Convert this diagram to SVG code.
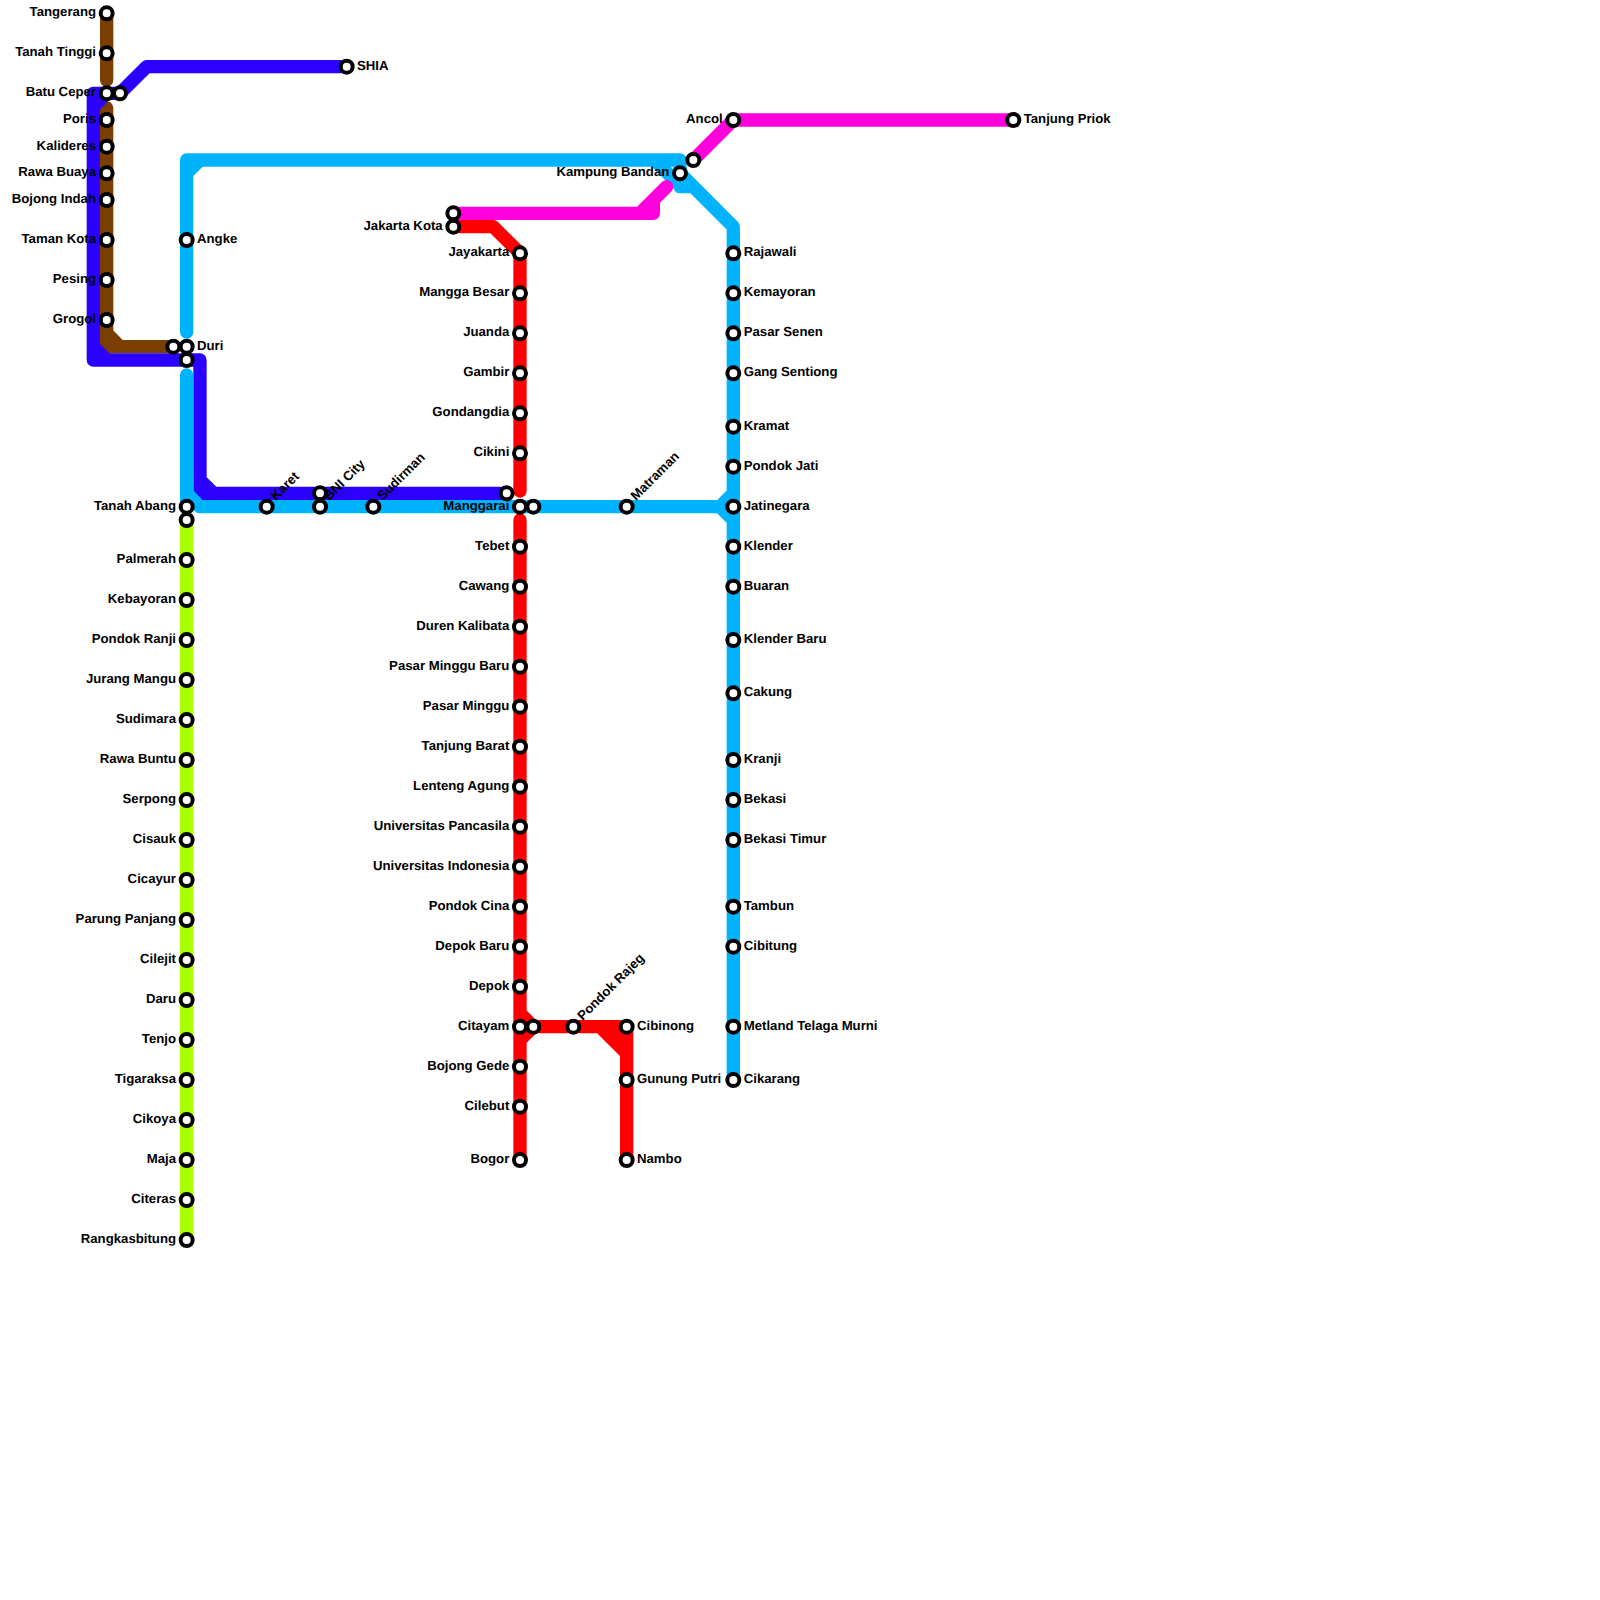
<svg xmlns="http://www.w3.org/2000/svg" width="1600" height="1600" viewBox="0 0 1600 1600">
<style>
.l{fill:none;stroke-width:13.33;stroke-linecap:round;stroke-linejoin:round}
.br{stroke:#7a3f00}.bl{stroke:#2b00ff}.cy{stroke:#00b3ff}.mg{stroke:#ff00dd}.rd{stroke:#ff0000}.gr{stroke:#aaff00}
circle{fill:#fff;stroke:#000;stroke-width:4}
text{font-family:"Liberation Sans",Arial,sans-serif;font-weight:700;font-size:13.2px;fill:#000;text-rendering:geometricPrecision}
.w{text-anchor:end}
</style>
<rect width="1600" height="1600" fill="#fff"/>
<g id="connectors">
<path class="l br" d="M106.67 13.33V80M106.67 108V346.67H173.33M106.67 333.33L120 346.67"/>
<path class="l gr" d="M186.67 520V1240"/>
<path class="l bl" d="M346.67 66.67H146.67L120 93.33H93.33V360H200V480L213.33 493.33H506.67M106.67 93.33L93.33 106.67M93.33 346.67L106.67 360M200 480V493.33H213.33"/>
<path class="l cy" d="M200 160H186.67V332M200 160L186.67 173.33M186.67 160H680V186.67H693.33L733.33 226.67V1080M680 173.33L733.33 226.67M654.5 160L680 185.5M186.67 375V506.67M186.67 493.33L200 506.67H733.33M733.33 493.33L720 506.67L733.33 520"/>
<path class="l rd" d="M453.33 226.67H493.33L520 253.33V491M520 520V1160M520 1013.33L533.33 1026.67L520 1040M533.33 1026.67H626.67V1160M600 1026.67L626.67 1053.33M610 1026.67L626.67 1043.33"/>
<path class="l mg" d="M453.33 213.33H640L666.67 186.67L653.33 200V213.33H640M693.33 160L733.33 120H1013.33"/>
</g>
<g id="stations">
<g id="tangerang"><circle cx="106.67" cy="13.33" r="6"/><text class="w" x="96" y="16.3">Tangerang</text></g>
<g id="tanah-tinggi"><circle cx="106.67" cy="53.33" r="6"/><text class="w" x="96" y="56.3">Tanah Tinggi</text></g>
<g id="batu-ceper"><circle cx="106.67" cy="93.33" r="6"/><text class="w" x="96" y="96.3">Batu Ceper</text></g>
<g id="batu-ceper-2"><circle cx="120" cy="93.33" r="6"/></g>
<g id="poris"><circle cx="106.67" cy="120" r="6"/><text class="w" x="96" y="123">Poris</text></g>
<g id="kalideres"><circle cx="106.67" cy="146.67" r="6"/><text class="w" x="96" y="149.6">Kalideres</text></g>
<g id="rawa-buaya"><circle cx="106.67" cy="173.33" r="6"/><text class="w" x="96" y="176.3">Rawa Buaya</text></g>
<g id="bojong-indah"><circle cx="106.67" cy="200" r="6"/><text class="w" x="96" y="203">Bojong Indah</text></g>
<g id="taman-kota"><circle cx="106.67" cy="240" r="6"/><text class="w" x="96" y="243">Taman Kota</text></g>
<g id="pesing"><circle cx="106.67" cy="280" r="6"/><text class="w" x="96" y="283">Pesing</text></g>
<g id="grogol"><circle cx="106.67" cy="320" r="6"/><text class="w" x="96" y="323">Grogol</text></g>
<g id="shia"><circle cx="346.67" cy="66.67" r="6"/><text x="357" y="69.6">SHIA</text></g>
<g id="angke"><circle cx="186.67" cy="240" r="6"/><text x="197" y="243">Angke</text></g>
<g id="duri-2"><circle cx="173.33" cy="346.67" r="6"/></g>
<g id="duri"><circle cx="186.67" cy="346.67" r="6"/><text x="197" y="349.6">Duri</text></g>
<g id="duri-3"><circle cx="186.67" cy="360" r="6"/></g>
<g id="tanah-abang"><circle cx="186.67" cy="506.67" r="6"/><text class="w" x="176" y="509.6">Tanah Abang</text></g>
<g id="tanah-abang-2"><circle cx="186.67" cy="520" r="6"/></g>
<g id="palmerah"><circle cx="186.67" cy="560" r="6"/><text class="w" x="176" y="563">Palmerah</text></g>
<g id="kebayoran"><circle cx="186.67" cy="600" r="6"/><text class="w" x="176" y="603">Kebayoran</text></g>
<g id="pondok-ranji"><circle cx="186.67" cy="640" r="6"/><text class="w" x="176" y="643">Pondok Ranji</text></g>
<g id="jurang-mangu"><circle cx="186.67" cy="680" r="6"/><text class="w" x="176" y="683">Jurang Mangu</text></g>
<g id="sudimara"><circle cx="186.67" cy="720" r="6"/><text class="w" x="176" y="723">Sudimara</text></g>
<g id="rawa-buntu"><circle cx="186.67" cy="760" r="6"/><text class="w" x="176" y="763">Rawa Buntu</text></g>
<g id="serpong"><circle cx="186.67" cy="800" r="6"/><text class="w" x="176" y="803">Serpong</text></g>
<g id="cisauk"><circle cx="186.67" cy="840" r="6"/><text class="w" x="176" y="843">Cisauk</text></g>
<g id="cicayur"><circle cx="186.67" cy="880" r="6"/><text class="w" x="176" y="883">Cicayur</text></g>
<g id="parung-panjang"><circle cx="186.67" cy="920" r="6"/><text class="w" x="176" y="923">Parung Panjang</text></g>
<g id="cilejit"><circle cx="186.67" cy="960" r="6"/><text class="w" x="176" y="963">Cilejit</text></g>
<g id="daru"><circle cx="186.67" cy="1000" r="6"/><text class="w" x="176" y="1003">Daru</text></g>
<g id="tenjo"><circle cx="186.67" cy="1040" r="6"/><text class="w" x="176" y="1043">Tenjo</text></g>
<g id="tigaraksa"><circle cx="186.67" cy="1080" r="6"/><text class="w" x="176" y="1083">Tigaraksa</text></g>
<g id="cikoya"><circle cx="186.67" cy="1120" r="6"/><text class="w" x="176" y="1123">Cikoya</text></g>
<g id="maja"><circle cx="186.67" cy="1160" r="6"/><text class="w" x="176" y="1163">Maja</text></g>
<g id="citeras"><circle cx="186.67" cy="1200" r="6"/><text class="w" x="176" y="1203">Citeras</text></g>
<g id="rangkasbitung"><circle cx="186.67" cy="1240" r="6"/><text class="w" x="176" y="1243">Rangkasbitung</text></g>
<g id="karet"><circle cx="266.67" cy="506.67" r="6"/><text transform="translate(276 501) rotate(-45)">Karet</text></g>
<g id="bni-city-2"><circle cx="320" cy="493.33" r="6"/></g>
<g id="bni-city"><circle cx="320" cy="506.67" r="6"/><text transform="translate(329.3 501) rotate(-45)">BNI City</text></g>
<g id="sudirman"><circle cx="373.33" cy="506.67" r="6"/><text transform="translate(382.7 501) rotate(-45)">Sudirman</text></g>
<g id="manggarai-2"><circle cx="506.67" cy="493.33" r="6"/></g>
<g id="manggarai"><circle cx="520" cy="506.67" r="6"/><text class="w" x="509.3" y="509.6">Manggarai</text></g>
<g id="manggarai-3"><circle cx="533.33" cy="506.67" r="6"/></g>
<g id="matraman"><circle cx="626.67" cy="506.67" r="6"/><text transform="translate(636 501) rotate(-45)">Matraman</text></g>
<g id="jakarta-kota"><circle cx="453.33" cy="213.33" r="6"/><circle cx="453.33" cy="226.67" r="6"/><text class="w" x="442.7" y="229.6">Jakarta Kota</text></g>
<g id="jayakarta"><circle cx="520" cy="253.33" r="6"/><text class="w" x="509.3" y="256.3">Jayakarta</text></g>
<g id="mangga-besar"><circle cx="520" cy="293.33" r="6"/><text class="w" x="509.3" y="296.3">Mangga Besar</text></g>
<g id="juanda"><circle cx="520" cy="333.33" r="6"/><text class="w" x="509.3" y="336.3">Juanda</text></g>
<g id="gambir"><circle cx="520" cy="373.33" r="6"/><text class="w" x="509.3" y="376.3">Gambir</text></g>
<g id="gondangdia"><circle cx="520" cy="413.33" r="6"/><text class="w" x="509.3" y="416.3">Gondangdia</text></g>
<g id="cikini"><circle cx="520" cy="453.33" r="6"/><text class="w" x="509.3" y="456.3">Cikini</text></g>
<g id="tebet"><circle cx="520" cy="546.67" r="6"/><text class="w" x="509.3" y="549.6">Tebet</text></g>
<g id="cawang"><circle cx="520" cy="586.67" r="6"/><text class="w" x="509.3" y="589.6">Cawang</text></g>
<g id="duren-kalibata"><circle cx="520" cy="626.67" r="6"/><text class="w" x="509.3" y="629.6">Duren Kalibata</text></g>
<g id="pasar-minggu-baru"><circle cx="520" cy="666.67" r="6"/><text class="w" x="509.3" y="669.6">Pasar Minggu Baru</text></g>
<g id="pasar-minggu"><circle cx="520" cy="706.67" r="6"/><text class="w" x="509.3" y="709.6">Pasar Minggu</text></g>
<g id="tanjung-barat"><circle cx="520" cy="746.67" r="6"/><text class="w" x="509.3" y="749.6">Tanjung Barat</text></g>
<g id="lenteng-agung"><circle cx="520" cy="786.67" r="6"/><text class="w" x="509.3" y="789.6">Lenteng Agung</text></g>
<g id="universitas-pancasila"><circle cx="520" cy="826.67" r="6"/><text class="w" x="509.3" y="829.6">Universitas Pancasila</text></g>
<g id="universitas-indonesia"><circle cx="520" cy="866.67" r="6"/><text class="w" x="509.3" y="869.6">Universitas Indonesia</text></g>
<g id="pondok-cina"><circle cx="520" cy="906.67" r="6"/><text class="w" x="509.3" y="909.6">Pondok Cina</text></g>
<g id="depok-baru"><circle cx="520" cy="946.67" r="6"/><text class="w" x="509.3" y="949.6">Depok Baru</text></g>
<g id="depok"><circle cx="520" cy="986.67" r="6"/><text class="w" x="509.3" y="989.6">Depok</text></g>
<g id="citayam"><circle cx="520" cy="1026.67" r="6"/><text class="w" x="509.3" y="1029.6">Citayam</text></g>
<g id="citayam-2"><circle cx="533.33" cy="1026.67" r="6"/></g>
<g id="bojong-gede"><circle cx="520" cy="1066.67" r="6"/><text class="w" x="509.3" y="1069.6">Bojong Gede</text></g>
<g id="cilebut"><circle cx="520" cy="1106.67" r="6"/><text class="w" x="509.3" y="1109.6">Cilebut</text></g>
<g id="bogor"><circle cx="520" cy="1160" r="6"/><text class="w" x="509.3" y="1163">Bogor</text></g>
<g id="pondok-rajeg"><circle cx="573.33" cy="1026.67" r="6"/><text transform="translate(582.7 1021) rotate(-45)">Pondok Rajeg</text></g>
<g id="cibinong"><circle cx="626.67" cy="1026.67" r="6"/><text x="637" y="1029.6">Cibinong</text></g>
<g id="gunung-putri"><circle cx="626.67" cy="1080" r="6"/><text x="637" y="1083">Gunung Putri</text></g>
<g id="nambo"><circle cx="626.67" cy="1160" r="6"/><text x="637" y="1163">Nambo</text></g>
<g id="kampung-bandan"><circle cx="680" cy="173.33" r="6"/><text class="w" x="669.3" y="176.3">Kampung Bandan</text></g>
<g id="kampung-bandan-2"><circle cx="693.33" cy="160" r="6"/></g>
<g id="ancol"><circle cx="733.33" cy="120" r="6"/><text class="w" x="722.7" y="123">Ancol</text></g>
<g id="tanjung-priok"><circle cx="1013.33" cy="120" r="6"/><text x="1023.7" y="123">Tanjung Priok</text></g>
<g id="rajawali"><circle cx="733.33" cy="253.33" r="6"/><text x="743.7" y="256.3">Rajawali</text></g>
<g id="kemayoran"><circle cx="733.33" cy="293.33" r="6"/><text x="743.7" y="296.3">Kemayoran</text></g>
<g id="pasar-senen"><circle cx="733.33" cy="333.33" r="6"/><text x="743.7" y="336.3">Pasar Senen</text></g>
<g id="gang-sentiong"><circle cx="733.33" cy="373.33" r="6"/><text x="743.7" y="376.3">Gang Sentiong</text></g>
<g id="kramat"><circle cx="733.33" cy="426.67" r="6"/><text x="743.7" y="429.6">Kramat</text></g>
<g id="pondok-jati"><circle cx="733.33" cy="466.67" r="6"/><text x="743.7" y="469.6">Pondok Jati</text></g>
<g id="jatinegara"><circle cx="733.33" cy="506.67" r="6"/><text x="743.7" y="509.6">Jatinegara</text></g>
<g id="klender"><circle cx="733.33" cy="546.67" r="6"/><text x="743.7" y="549.6">Klender</text></g>
<g id="buaran"><circle cx="733.33" cy="586.67" r="6"/><text x="743.7" y="589.6">Buaran</text></g>
<g id="klender-baru"><circle cx="733.33" cy="640" r="6"/><text x="743.7" y="643">Klender Baru</text></g>
<g id="cakung"><circle cx="733.33" cy="693.33" r="6"/><text x="743.7" y="696.3">Cakung</text></g>
<g id="kranji"><circle cx="733.33" cy="760" r="6"/><text x="743.7" y="763">Kranji</text></g>
<g id="bekasi"><circle cx="733.33" cy="800" r="6"/><text x="743.7" y="803">Bekasi</text></g>
<g id="bekasi-timur"><circle cx="733.33" cy="840" r="6"/><text x="743.7" y="843">Bekasi Timur</text></g>
<g id="tambun"><circle cx="733.33" cy="906.67" r="6"/><text x="743.7" y="909.6">Tambun</text></g>
<g id="cibitung"><circle cx="733.33" cy="946.67" r="6"/><text x="743.7" y="949.6">Cibitung</text></g>
<g id="metland-telaga-murni"><circle cx="733.33" cy="1026.67" r="6"/><text x="743.7" y="1029.6">Metland Telaga Murni</text></g>
<g id="cikarang"><circle cx="733.33" cy="1080" r="6"/><text x="743.7" y="1083">Cikarang</text></g>
</g>
</svg>
